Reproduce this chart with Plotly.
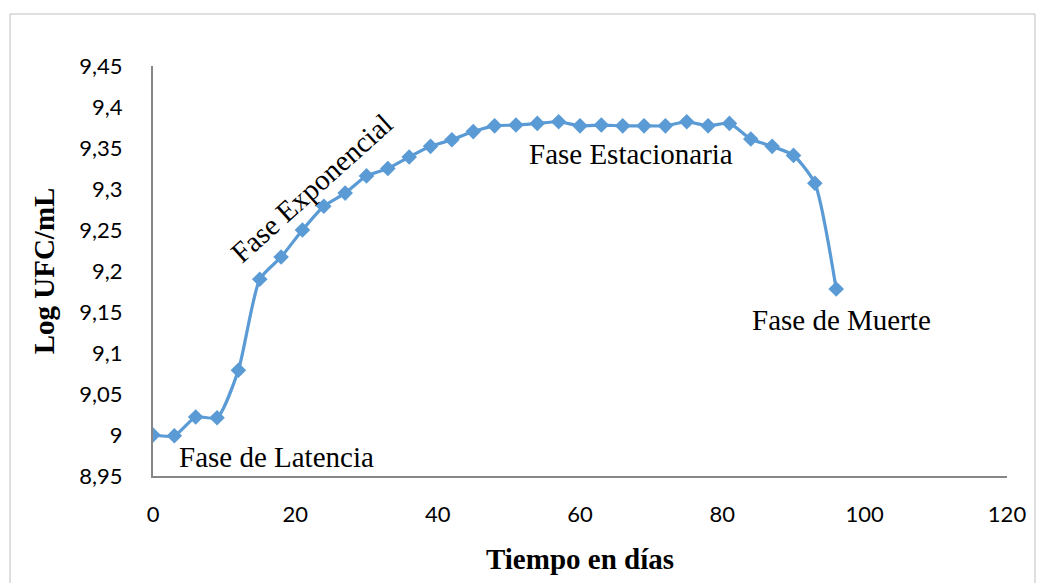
import plotly.graph_objects as go

dias = [0, 3, 6, 9, 12, 15, 18, 21, 24, 27, 30, 33, 36, 39, 42, 45, 48, 51, 54, 57,
        60, 63, 66, 69, 72, 75, 78, 81, 84, 87, 90, 93, 96]
log_ufc = [9.000, 8.999, 9.022, 9.021, 9.079, 9.190, 9.217, 9.250, 9.279, 9.295,
           9.316, 9.325, 9.339, 9.352, 9.360, 9.370, 9.377, 9.378, 9.380, 9.382,
           9.377, 9.378, 9.377, 9.377, 9.377, 9.382, 9.377, 9.380, 9.361, 9.352,
           9.341, 9.307, 9.178]

fase_textos = ["Fase de Latencia", "Fase Exponencial", "Fase Estacionaria", "Fase de Muerte"]
fase_x = [17.3, 22.3, 67.2, 96.7]
fase_y = [8.973, 9.301, 9.343, 9.140]
fase_ang = [0, -42, 0, 0]

x_ticks = [0, 20, 40, 60, 80, 100, 120]

fig = go.Figure()
fig.add_trace(go.Scatter(
    x=dias, y=log_ufc, mode="lines+markers",
    line=dict(color="#5B9BD5", width=3.2, shape="spline", smoothing=0.6),
    marker=dict(symbol="diamond", size=12, color="#5B9BD5"),
    showlegend=False, hoverinfo="x+y",
))

for t, x, y, a in zip(fase_textos, fase_x, fase_y, fase_ang):
    fig.add_annotation(x=x, y=y, text=t, showarrow=False, textangle=a,
                       xanchor="center", yanchor="middle",
                       font=dict(family="Liberation Serif", size=29, color="black"))

fig.add_shape(type="rect", xref="paper", yref="paper",
              x0=-0.1674, x1=1.0328, y0=-0.35, y1=1.1268,
              line=dict(color="#BFBFBF", width=1), layer="below")

fig.update_layout(
    width=1037, height=583,
    margin=dict(l=153, r=30, t=66, b=107),
    paper_bgcolor="white", plot_bgcolor="white",
    separators=",.",
    xaxis=dict(range=[0, 120], tickvals=x_ticks, showgrid=False, zeroline=False,
               showline=True, linecolor="#868686", linewidth=2, ticks="",
               ticklabelstandoff=18,
               tickfont=dict(family="Lato", size=22, color="black"),
               title=dict(text="<b>Tiempo en días</b>", standoff=22,
                          font=dict(family="Liberation Serif", size=29, color="black"))),
    yaxis=dict(range=[8.95, 9.45], dtick=0.05, tick0=8.95, showgrid=False, zeroline=False,
               showline=True, linecolor="#868686", linewidth=2, ticks="",
               ticklabelstandoff=24,
               tickfont=dict(family="Lato", size=22, color="black"),
               title=dict(text="<b>Log UFC/mL</b>", standoff=16,
                          font=dict(family="Liberation Serif", size=29, color="black"))),
)

fig.write_html("out.html")
